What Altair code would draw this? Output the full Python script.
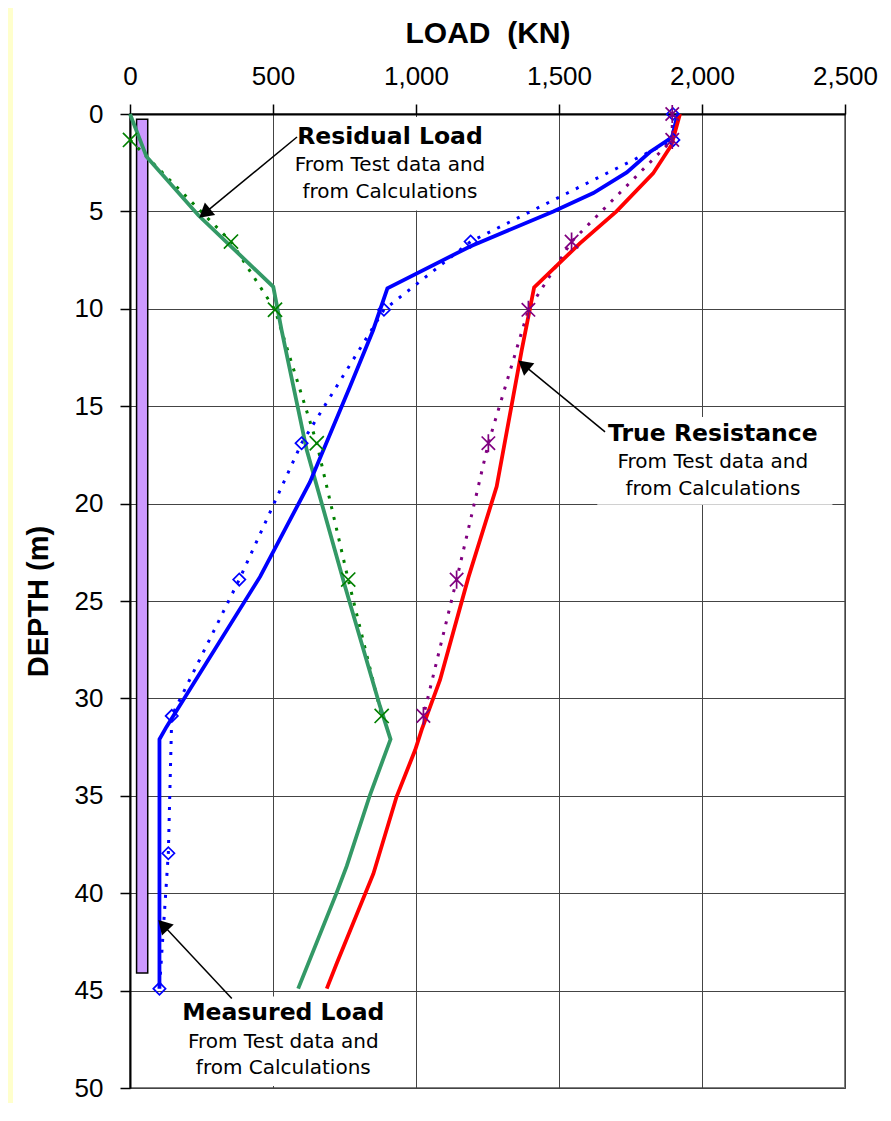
import math
import altair as alt
import pandas as pd

# ---------------- data ----------------
x_ticks = [0, 500, 1000, 1500, 2000, 2500]
y_ticks = [0, 5, 10, 15, 20, 25, 30, 35, 40, 45, 50]

# calculated curves (solid)
meas_calc_depth = [0, 1.2, 1.95, 3.0, 4.06, 5.0, 6.8, 8.95, 11.1, 14.0, 18.9, 23.75, 31.45, 32.1, 44.9]
meas_calc_load = [1915, 1895, 1818, 1737, 1620, 1480, 1189, 900, 850, 769, 629, 455, 128, 103, 103]

resid_calc_depth = [0, 2.2, 5.2, 8.87, 11.1, 17.25, 24.26, 30.4, 32.1, 34.96, 38.6, 40.0, 44.9]
resid_calc_load = [0, 58, 239, 501, 530, 618, 752, 874, 911, 839, 758, 722, 588]

true_calc_depth = [0, 1.6, 3.05, 5.0, 6.64, 8.9, 12.1, 19.13, 23.8, 29.05, 31.6, 32.65, 35.05, 39.0, 43.6, 44.9]
true_calc_load = [1923, 1893, 1829, 1701, 1573, 1413, 1370, 1282, 1183, 1084, 1020, 997, 932, 851, 723, 688]

# test data (dotted with markers)
meas_test_depth = [0, 1.33, 6.55, 10.05, 16.9, 23.9, 30.9, 37.95, 44.9]
meas_test_load = [1898, 1900, 1191, 888, 600, 382, 146, 134, 103]
resid_test_depth = [1.33, 6.55, 10.05, 16.9, 23.9, 30.9]
resid_test_load = [0, 353, 507, 653, 763, 880]
true_test_depth = [0, 1.33, 6.55, 10.05, 16.9, 23.9, 30.9]
true_test_load = [1896, 1896, 1544, 1393, 1253, 1142, 1026]

# pile
pile_load = [23, 62]
pile_depth = [0.27, 44.1]

# annotations
ann_titles = ["Residual Load", "True Resistance", "Measured Load"]
ann_sub = ["From Test data and", "from Calculations"]
ann_x = [909, 2038, 536]
ann_depth = [[1.17, 2.62, 3.99], [16.43, 17.85, 19.27], [46.17, 47.62, 48.99]]
box_x = [[560, 1260], [1634, 2456], [157, 917]]
box_depth = [[0.15, 4.95], [15.55, 20.06], [45.3, 49.9]]
arrow_from = [(584, 1.18), (1661, 16.32), (356, 45.4)]
arrow_to = [(242, 5.32), (1358, 12.66), (99, 41.37)]

# ---------------- layout ----------------
W, H = 715, 974
PXX, PXY = W / 2500.0, H / 50.0
FONT = "Liberation Sans"
ANN_FONT = "DejaVu Sans"

XSCALE = alt.Scale(domain=[0, 2500], nice=False, zero=False)
YSCALE = alt.Scale(domain=[0, 50], reverse=True, nice=False, zero=False)

xaxis = alt.Axis(orient="top", values=x_ticks, format=",d", labelFont=FONT, labelFontSize=26,
                 labelColor="black", labelPadding=20, labelBaseline="alphabetic",
                 labelFlush=False, labelOverlap=False,
                 tickSize=10, tickColor="black", tickWidth=1.5,
                 domainColor="black", domainWidth=2,
                 grid=True, gridColor="#444444", gridWidth=1,
                 titleFont=FONT, titleFontSize=30, titleFontWeight="bold", titleColor="black",
                 titleX=W / 2, titleY=-81, titleBaseline="middle", titleAlign="center")
yaxis = alt.Axis(values=y_ticks, format="d", labelFont=FONT, labelFontSize=26, labelColor="black",
                 labelPadding=17, labelFlush=False, labelOverlap=False,
                 tickSize=10, tickColor="black", tickWidth=1.5,
                 domainColor="black", domainWidth=2,
                 grid=True, gridColor="#444444", gridWidth=1,
                 titleFont=FONT, titleFontSize=29, titleFontWeight="bold", titleColor="black",
                 titleAngle=270, titleX=-92, titleY=H / 2, titleBaseline="middle", titleAlign="center")


def X(f):
    return alt.X(f, type="quantitative", scale=XSCALE, axis=xaxis, title="LOAD\u00a0 (KN)")


def Y(f):
    return alt.Y(f, type="quantitative", scale=YSCALE, axis=yaxis, title="DEPTH (m)")


def series(depth, load):
    return pd.DataFrame({"depth": depth, "load": load})


layers = []

# yellow strip at left edge
layers.append(alt.Chart(pd.DataFrame({"a": [0]})).mark_rect(color="#FFFFCC").encode(
    x=alt.value(-122), x2=alt.value(-117), y=alt.value(-106), y2=alt.value(H + 15)))

# white boxes behind annotation text
bdf = pd.DataFrame({"x1": [b[0] for b in box_x], "x2": [b[1] for b in box_x],
                    "d1": [b[0] for b in box_depth], "d2": [b[1] for b in box_depth]})
layers.append(alt.Chart(bdf).mark_rect(color="white").encode(x=X("x1"), x2="x2", y=Y("d1"), y2="d2"))

# pile
pdf = pd.DataFrame({"x1": [pile_load[0]], "x2": [pile_load[1]], "d1": [pile_depth[0]], "d2": [pile_depth[1]]})
layers.append(alt.Chart(pdf).mark_rect(color="#CC99FF", stroke="black", strokeWidth=1.5).encode(
    x=X("x1"), x2="x2", y=Y("d1"), y2="d2"))


def dotted(depth, load, color):
    return alt.Chart(series(depth, load)).mark_line(color=color, strokeWidth=3, strokeDash=[3, 8]).encode(
        x=X("load"), y=Y("depth"), order=alt.Order("depth", type="quantitative"))


def solid(depth, load, color):
    return alt.Chart(series(depth, load)).mark_line(color=color, strokeWidth=3.8).encode(
        x=X("load"), y=Y("depth"), order=alt.Order("depth", type="quantitative"))


def markers(depth, load, color, shape, size):
    return alt.Chart(series(depth, load)).mark_point(shape=shape, filled=False, color=color,
                                                     strokeWidth=1.7, size=size, opacity=1).encode(
        x=X("load"), y=Y("depth"))


XSHAPE = "M-1,-1L1,1M-1,1L1,-1"
STAR = "M-1,-1L1,1M-1,1L1,-1M0,-1.35L0,1.35"

layers += [
    dotted(meas_test_depth, meas_test_load, "#0000FF"),
    dotted(resid_test_depth, resid_test_load, "#008000"),
    dotted(true_test_depth, true_test_load, "#800080"),
    solid(resid_calc_depth, resid_calc_load, "#339966"),
    solid(meas_calc_depth, meas_calc_load, "#0000FF"),
    solid(true_calc_depth, true_calc_load, "#FF0000"),
    markers(meas_test_depth, meas_test_load, "#0000FF", "diamond", 150),
    markers(resid_test_depth, resid_test_load, "#008000", XSHAPE, 200),
    markers(true_test_depth, true_test_load, "#800080", STAR, 180),
]

# arrows
HEAD = 260
h = math.sqrt(3) / 4 * math.sqrt(HEAD)
rows, heads = [], []
for (x1, y1), (x2, y2) in zip(arrow_from, arrow_to):
    dxp, dyp = (x2 - x1) * PXX, (y2 - y1) * PXY
    L = math.hypot(dxp, dyp)
    ux, uy = dxp / L, dyp / L
    ang = math.degrees(math.atan2(dxp, -dyp)) % 360
    cx, cy = x2 - ux * h / PXX, y2 - uy * h / PXY
    rows.append({"x1": x1, "d1": y1, "x2": cx, "d2": cy})
    heads.append({"x": cx, "d": cy, "ang": ang})
layers.append(alt.Chart(pd.DataFrame(rows)).mark_rule(color="black", strokeWidth=1.5).encode(
    x=X("x1"), y=Y("d1"), x2="x2", y2="d2"))
layers.append(alt.Chart(pd.DataFrame(heads)).mark_point(shape="triangle-up", filled=True, color="black",
                                                        size=HEAD, opacity=1).encode(
    x=X("x"), y=Y("d"), angle=alt.Angle("ang", type="quantitative", scale=None)))

# annotation text
trows, srows = [], []
for t, x, ds in zip(ann_titles, ann_x, ann_depth):
    trows.append({"text": t, "x": x, "d": ds[0]})
    srows.append({"text": ann_sub[0], "x": x, "d": ds[1]})
    srows.append({"text": ann_sub[1], "x": x, "d": ds[2]})
layers.append(alt.Chart(pd.DataFrame(trows)).mark_text(font=ANN_FONT, fontSize=23.5, fontWeight="bold",
                                                       color="black", align="center", baseline="middle").encode(
    x=X("x"), y=Y("d"), text="text"))
layers.append(alt.Chart(pd.DataFrame(srows)).mark_text(font=ANN_FONT, fontSize=20,
                                                       color="black", align="center", baseline="middle").encode(
    x=X("x"), y=Y("d"), text="text"))

chart = alt.layer(*layers).properties(
    width=W, height=H,
    autosize=alt.AutoSizeParams(type="none"),
    padding={"left": 122, "top": 106, "right": 38, "bottom": 15},
    background="white",
).configure_view(stroke="#808080", strokeWidth=2)

chart.save("out.html", embed_options={"renderer": "svg", "actions": False})
